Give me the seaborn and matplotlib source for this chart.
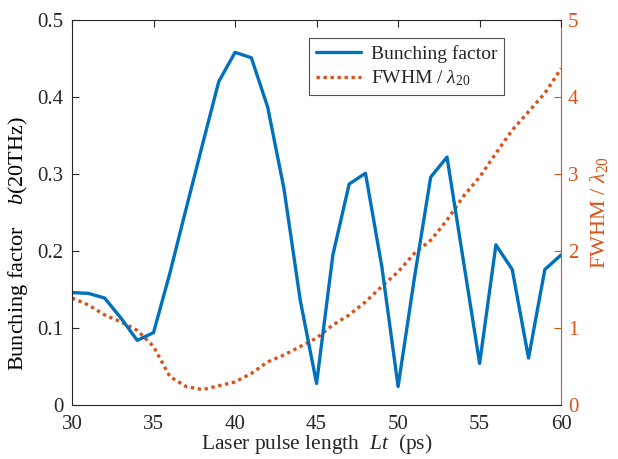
import numpy as np
import pandas as pd
import matplotlib
matplotlib.use("Agg")
import matplotlib.pyplot as plt
import seaborn as sns

# Data
pulse_length = [30, 31, 32, 33, 34, 35, 36, 37, 38, 39, 40, 41, 42, 43, 44, 45,
                46, 47, 48, 49, 50, 51, 52, 53, 54, 55, 56, 57, 58, 59, 60]
bunching = [0.146, 0.145, 0.139, 0.113, 0.084, 0.094, 0.171, 0.255, 0.338, 0.420,
            0.458, 0.451, 0.387, 0.281, 0.136, 0.028, 0.195, 0.287, 0.301, 0.180,
            0.024, 0.165, 0.296, 0.322, 0.188, 0.054, 0.208, 0.176, 0.061, 0.176,
            0.195]
fwhm = [1.39, 1.30, 1.17, 1.08, 0.97, 0.76, 0.37, 0.24, 0.20, 0.25,
        0.30, 0.41, 0.56, 0.65, 0.76, 0.87, 1.04, 1.17, 1.34, 1.54,
        1.73, 1.97, 2.14, 2.40, 2.71, 2.96, 3.27, 3.57, 3.81, 4.05,
        4.37]
x_ticks = [30, 35, 40, 45, 50, 55, 60]
left_ticks = [0, 0.1, 0.2, 0.3, 0.4, 0.5]
left_ticklabels = ["0", "0.1", "0.2", "0.3", "0.4", "0.5"]
right_ticks = [0, 1, 2, 3, 4, 5]

blue = "#0072BD"
orange = "#D95319"
dark = "#262626"

sns.set_style("white")
plt.rcParams["font.family"] = ["Liberation Serif", "DejaVu Serif"]
plt.rcParams["mathtext.fontset"] = "custom"
plt.rcParams["mathtext.rm"] = "Liberation Serif"
plt.rcParams["mathtext.it"] = "Liberation Serif:italic"

df = pd.DataFrame({"Lt": pulse_length, "b": bunching, "fwhm": fwhm})

fig = plt.figure(figsize=(6.18, 4.59), dpi=100)
ax = fig.add_axes([0.1165, 0.1176, 0.7915, 0.8388])
ax2 = ax.twinx()

sns.lineplot(data=df, x="Lt", y="b", ax=ax, color=blue, linewidth=2.4,
             label="Bunching factor", legend=False)
sns.lineplot(data=df, x="Lt", y="fwhm", ax=ax2, color=orange, linewidth=2.4,
             linestyle=(0, (1, 1.1)), label="FWHM / $\\lambda_{20}$", legend=False)

ax.set_xlim(30, 60)
ax.set_ylim(0, 0.5)
ax2.set_ylim(0, 5)
ax.set_xticks(x_ticks)
ax.set_xticklabels([str(t) for t in x_ticks])
ax.set_yticks(left_ticks)
ax.set_yticklabels(left_ticklabels)
ax2.set_yticks(right_ticks)
ax2.set_yticklabels([str(t) for t in right_ticks])

fs = 15
ax.tick_params(axis="both", direction="in", length=5, width=0.8, colors=dark,
               labelsize=fs, top=True, right=False)
ax.tick_params(axis="x", pad=7)
ax.tick_params(axis="y", pad=6)
ax2.tick_params(axis="y", direction="in", length=5, width=0.8, colors=orange,
                labelsize=fs, pad=5)

for s in ["left", "top", "bottom"]:
    ax.spines[s].set_color(dark)
    ax.spines[s].set_linewidth(0.8)
    ax2.spines[s].set_visible(False)
ax.spines["right"].set_visible(False)
ax2.spines["right"].set_color(orange)
ax2.spines["right"].set_linewidth(0.8)

ax.set_xlabel("Laser pulse length  $Lt$  (ps)", fontsize=15.5, color=dark, labelpad=-1)
ax.set_ylabel("Bunching factor    $b$(20THz)", fontsize=16, color="black")
ax.yaxis.set_label_coords(-0.085, 0.42)
ax2.set_ylabel("FWHM / $\\lambda_{20}$", fontsize=16, color=orange, labelpad=7)
ax.grid(False)
ax2.grid(False)

h1, l1 = ax.get_legend_handles_labels()
h2, l2 = ax2.get_legend_handles_labels()
leg = ax.legend(h1 + h2, l1 + l2, loc="upper right", bbox_to_anchor=(0.883, 0.953),
                borderaxespad=0, fontsize=14, frameon=True, fancybox=False,
                handlelength=2.3, borderpad=0.35, labelspacing=0.3, handletextpad=0.5)
leg.get_frame().set_edgecolor(dark)
leg.get_frame().set_linewidth(0.8)
ax2.set_zorder(ax.get_zorder() - 1)
ax.patch.set_visible(False)
ax.set_zorder(2)

fig.savefig("out.png", dpi=100)
